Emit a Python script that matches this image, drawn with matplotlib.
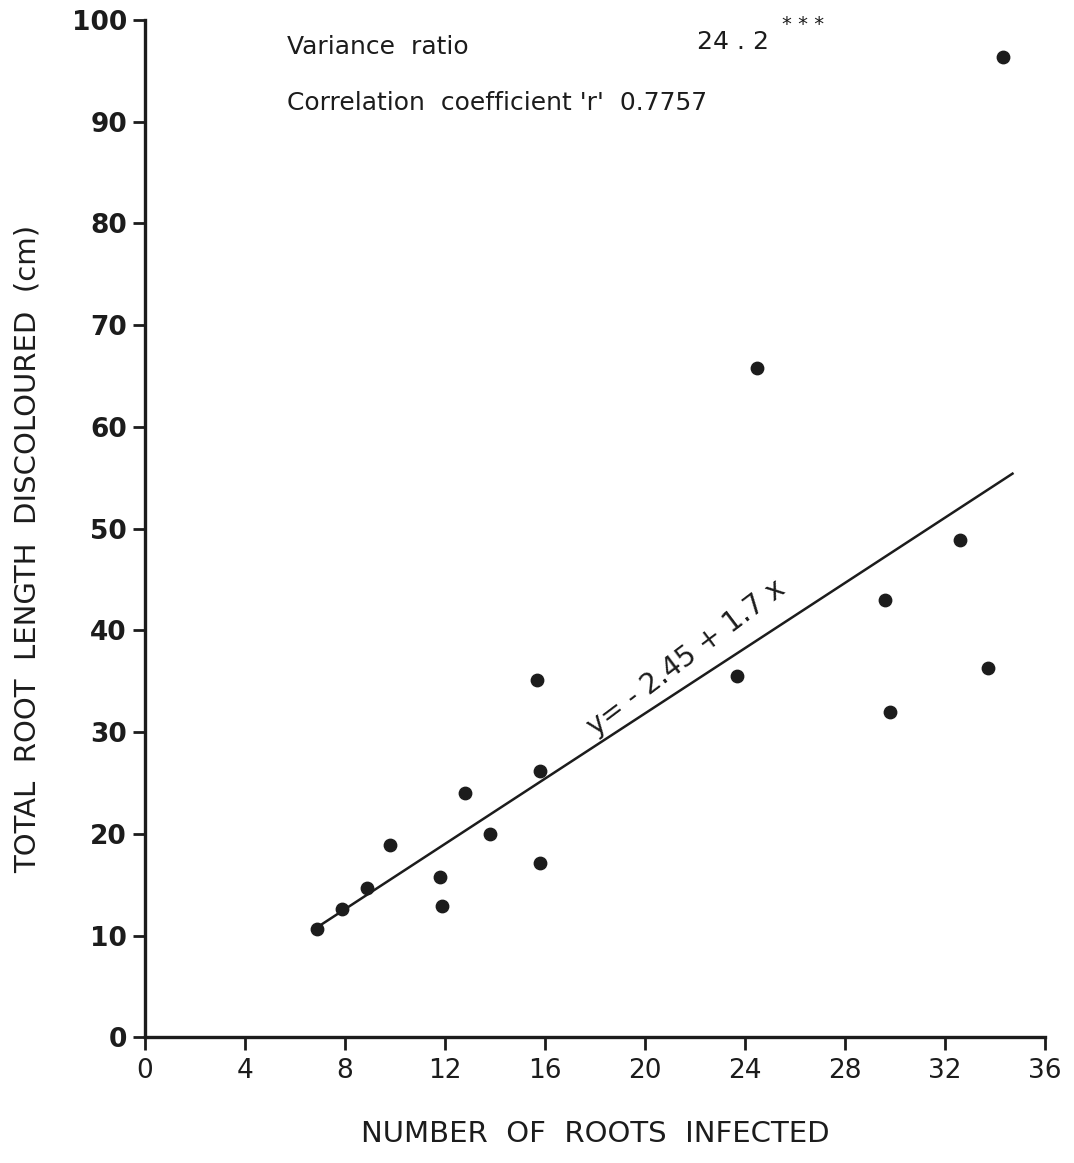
import numpy as np
import matplotlib
matplotlib.use("Agg")
import matplotlib.pyplot as plt

# points
roots = [6.9, 7.9, 8.9, 9.8, 11.8, 11.9, 12.8, 13.8, 15.7, 15.8, 15.8,
         23.7, 24.5, 29.6, 29.8, 32.6, 33.7, 34.3]
length = [10.7, 12.6, 14.7, 18.9, 15.8, 12.9, 24.0, 20.0, 35.1, 26.2, 17.1,
          35.5, 65.8, 43.0, 32.0, 48.9, 36.3, 96.3]

# regression line end points (y = -2.45 + 1.7x)
line_x = [7.0, 34.7]
line_y = [11.0, 55.4]

xticks = [0, 4, 8, 12, 16, 20, 24, 28, 32, 36]
yticks = [0, 10, 20, 30, 40, 50, 60, 70, 80, 90, 100]

ink = "#1c1c1c"

fig = plt.figure(figsize=(10.74, 11.63), dpi=100)
ax = fig.add_axes([0.135, 0.108, 0.838, 0.875])

ax.scatter(roots, length, s=80, color=ink, zorder=3)
ax.plot(line_x, line_y, color=ink, lw=1.8)

ax.set_xlim(0, 36)
ax.set_ylim(0, 100)
ax.set_xticks(xticks)
ax.set_yticks(yticks)
ax.set_xticklabels([str(t) for t in xticks], fontsize=19)
ax.set_yticklabels([str(t) for t in yticks], fontsize=19, fontweight="bold")

for s in ["top", "right"]:
    ax.spines[s].set_visible(False)
for s in ["left", "bottom"]:
    ax.spines[s].set_linewidth(2.4)
    ax.spines[s].set_color(ink)
ax.tick_params(axis="both", direction="out", length=9, width=2, color=ink, labelcolor=ink)
ax.tick_params(axis="x", pad=6)
ax.tick_params(axis="y", pad=4)

ax.set_xlabel("NUMBER  OF  ROOTS  INFECTED", fontsize=21, color=ink, labelpad=26)
ax.set_ylabel("TOTAL  ROOT  LENGTH  DISCOLOURED  (cm)", fontsize=21, color=ink,
              labelpad=22, y=0.48)

ax.text(5.7, 97.3, "Variance  ratio", fontsize=18, color=ink, va="center")
ax.text(22.1, 97.8, "24 . 2", fontsize=18, color=ink, va="center")
ax.text(25.5, 99.5, "* * *", fontsize=14, color=ink, va="center")
ax.text(5.7, 91.8, "Correlation  coefficient 'r'  0.7757", fontsize=18, color=ink, va="center")

ax.text(22.0, 36.2, "y= - 2.45 + 1.7 x", fontsize=20, color=ink,
        rotation=37, ha="center", va="bottom", rotation_mode="anchor")

fig.savefig("out.png", dpi=100, facecolor="white")
